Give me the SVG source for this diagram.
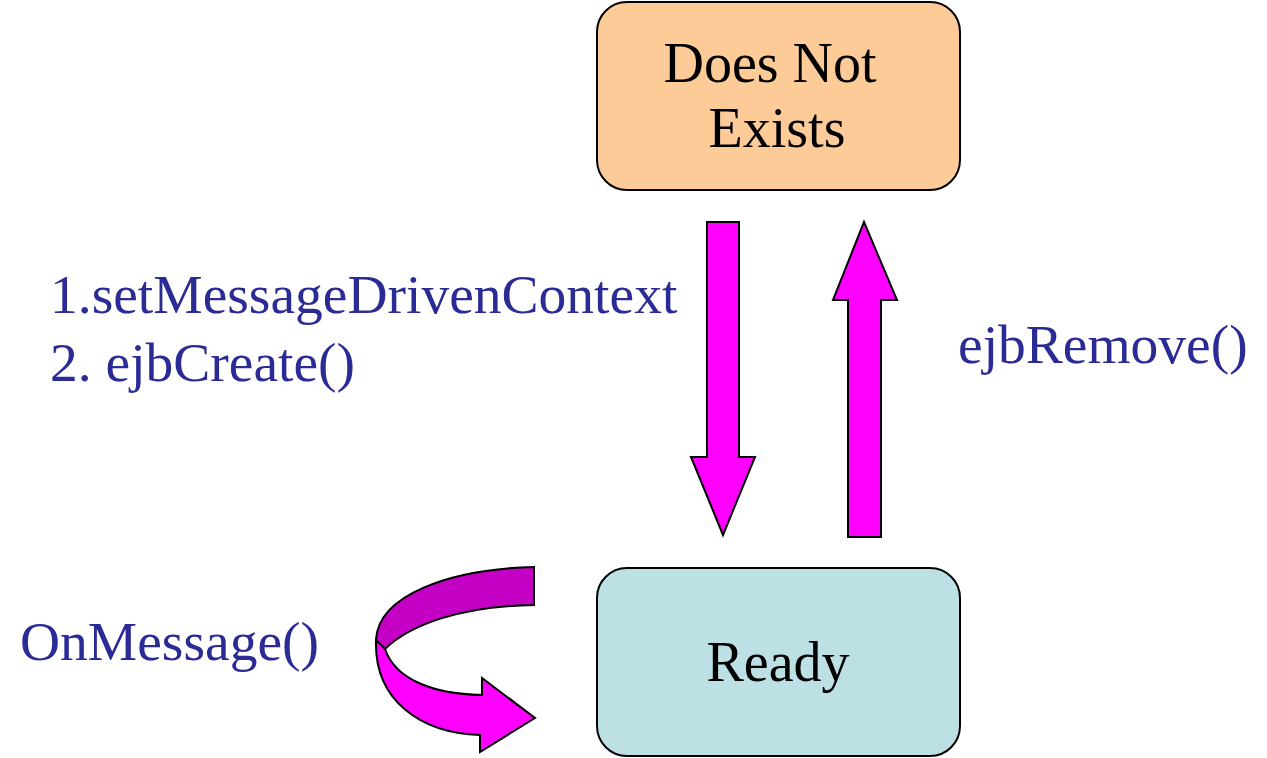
<svg xmlns="http://www.w3.org/2000/svg" width="1267" height="758" viewBox="0 0 1267 758">
<style>
.box{stroke:#000;stroke-width:2}
.nt{font-family:"Liberation Serif","Times New Roman",serif;font-size:56px;fill:#000;text-anchor:middle}
.lb{font-family:"Liberation Serif","Times New Roman",serif;font-size:55.5px;fill:#2b2b96}
.arr{fill:#ff00ff;stroke:#000;stroke-width:2;stroke-linejoin:miter}
.arr-dark{fill:#c400c4;stroke:#000;stroke-width:2}
</style>
<rect width="1267" height="758" fill="#fff"/>
<g id="node-does-not-exist">
<rect class="box" x="597" y="2" width="363" height="188" rx="30" fill="#fdcb98"/>
<text class="nt" x="770" y="82">Does Not</text>
<text class="nt" x="777" y="147">Exists</text>
</g>
<g id="node-ready">
<rect class="box" x="597" y="568" width="363" height="188" rx="30" fill="#bce0e4"/>
<text class="nt" x="778" y="681">Ready</text>
</g>
<g id="connectors">
<polygon class="arr" points="707,222 739,222 739,457 755,457 723,535 691,457 707,457"/>
<polygon class="arr" points="864,222 897,300 881,300 881,537 848,537 848,300 833,300"/>
<path class="arr-dark" d="M534,567 C450,569 378,595 376,640 L385,649 C410,625 460,606 534,605 Z"/>
<path class="arr" d="M376,640 C374,700 420,733 480,735 L480,752 L535,718 L482,678 L482,695 C430,694 395,678 385,649 Z"/>
<text class="lb" x="50" y="313">1.setMessageDrivenContext</text>
<text class="lb" x="50" y="381">2. ejbCreate()</text>
<text class="lb" x="958" y="363">ejbRemove()</text>
<text class="lb" x="20" y="660">OnMessage()</text>
</g>
</svg>
